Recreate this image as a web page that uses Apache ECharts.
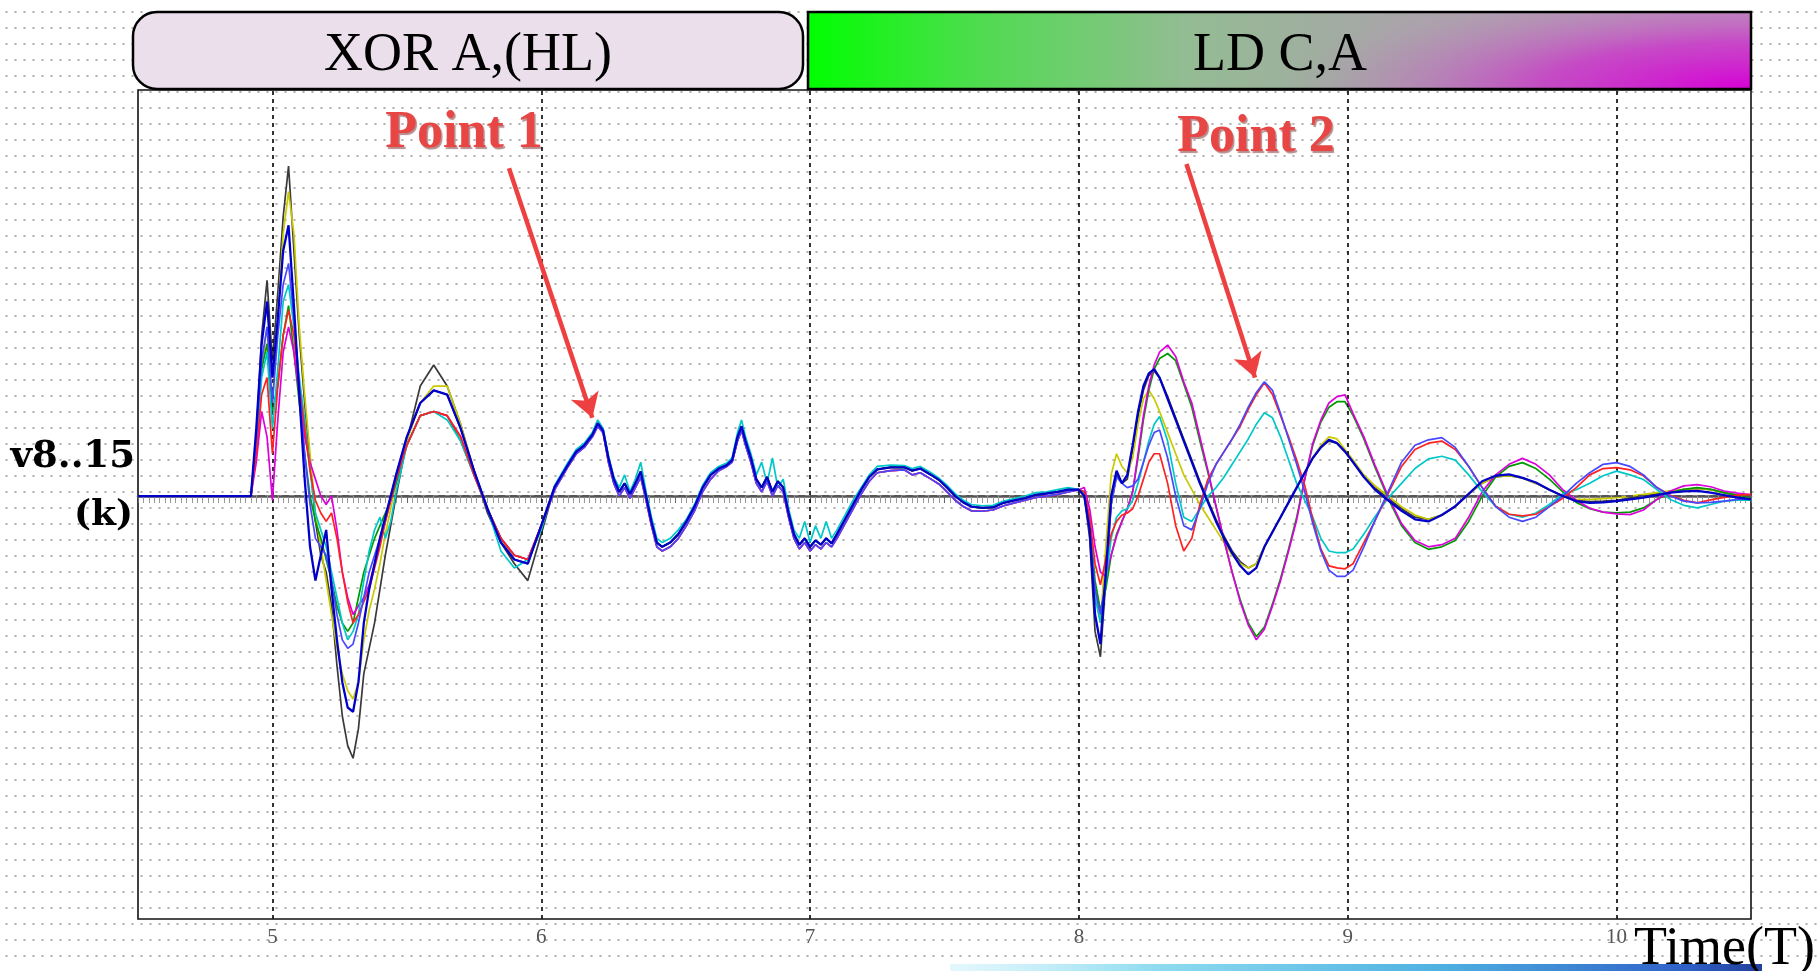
<!DOCTYPE html>
<html>
<head>
<meta charset="utf-8">
<script src="https://cdn.jsdelivr.net/npm/echarts@6/dist/echarts.min.js"></script>
<style>
html,body{margin:0;padding:0;background:#fff;}
#c{width:1818px;height:971px;background-color:#fff;
background-image:radial-gradient(circle, #b3b3b3 0.9px, rgba(255,255,255,0) 1.4px);
background-size:9px 16px;background-position:2px 4px;}
</style>
</head>
<body>
<div id="c"></div>
<script>
// ---------- DATA ----------
const tickValues = [5, 6, 7, 8, 9, 10];

const xTransient = [4.5, 4.92, 4.94, 4.96, 4.98, 5.0, 5.02, 5.04, 5.06, 5.08, 5.1, 5.12, 5.14, 5.16, 5.18, 5.2, 5.22, 5.24, 5.26, 5.28, 5.3, 5.32, 5.34, 5.36, 5.38, 5.4, 5.42, 5.44, 5.46, 5.5, 5.55, 5.6, 5.65, 5.7, 5.75, 5.8, 5.85, 5.9, 5.95, 6.0];
const xMiddle = [6.05, 6.1, 6.13, 6.16, 6.19, 6.21, 6.23, 6.25, 6.27, 6.29, 6.31, 6.33, 6.35, 6.37, 6.39, 6.41, 6.43, 6.45, 6.48, 6.51, 6.54, 6.57, 6.6, 6.63, 6.66, 6.69, 6.71, 6.73, 6.745, 6.76, 6.78, 6.8, 6.82, 6.84, 6.86, 6.88, 6.9, 6.92, 6.94, 6.96, 6.98, 7.0, 7.02, 7.04, 7.06, 7.08, 7.1, 7.13, 7.16, 7.19, 7.22, 7.25, 7.3, 7.35, 7.38, 7.41, 7.45, 7.48, 7.51, 7.54, 7.57, 7.6, 7.64, 7.68, 7.72, 7.76, 7.8, 7.84, 7.88, 7.92, 7.96];
const xRight = [8.0, 8.02, 8.04, 8.06, 8.08, 8.1, 8.12, 8.14, 8.16, 8.18, 8.2, 8.22, 8.24, 8.26, 8.28, 8.3, 8.33, 8.36, 8.39, 8.42, 8.45, 8.48, 8.51, 8.54, 8.57, 8.6, 8.63, 8.66, 8.69, 8.72, 8.75, 8.78, 8.81, 8.84, 8.87, 8.9, 8.93, 8.96, 8.99, 9.02, 9.06, 9.1, 9.15, 9.2, 9.25, 9.3, 9.35, 9.4, 9.45, 9.5, 9.55, 9.6, 9.65, 9.7, 9.75, 9.8, 9.85, 9.9, 9.95, 10.0, 10.05, 10.1, 10.15, 10.2, 10.25, 10.3, 10.35, 10.4, 10.45, 10.5];

// transient (4.5 - 6.0)
const blackTransient   = [0, 0, 14, 38, 51, 32, 48, 66, 78, 58, 38, 22, 8, -6, -14, -18, -26, -40, -52, -59, -62, -55, -42, -36, -30, -22, -14, -7, 0, 13, 26, 31, 26, 17, 6, -4, -11, -16, -20, -9];
const yellowTransient  = [0, 0, 12, 30, 40, 22, 42, 62, 72, 62, 40, 24, 10, -4, -12, -20, -28, -36, -42, -46, -48, -44, -34, -27, -22, -16, -9, -3, 3, 13, 22, 26, 26, 17, 6, -3, -10, -15, -16, -7];
const navyTransient    = [0, 0, 16, 36, 46, 28, 42, 58, 64, 45, 24, 4, -12, -20, -14, -8, -22, -34, -44, -50, -51, -44, -30, -22, -16, -10, -5, 0, 5, 14, 22, 25, 24, 16, 6, -3, -11, -15, -16, -7];
const violetTransient  = [0, 0, 14, 32, 40, 22, 38, 50, 55, 42, 26, 10, -2, -10, -12, -14, -20, -28, -34, -36, -35, -30, -24, -18, -14, -10, -5, 0, 5, 14, 22, 25, 24, 16, 6, -3, -11, -15, -16, -7];
const redTransient     = [0, 0, 10, 24, 28, 10, 26, 38, 44, 38, 26, 16, 6, -1, -4, -6, -4, -10, -18, -25, -30, -28, -25, -22, -17, -12, -6, -1, 4, 12, 19, 20, 19, 14, 5, -3, -10, -14, -15, -7];
const magentaTransient = [0, 0, 8, 20, 14, -1, 18, 34, 40, 34, 24, 14, 8, 4, 0, -2, 0, -8, -18, -24, -28, -26, -24, -21, -16, -11, -6, -1, 4, 12, 19, 20, 19, 14, 5, -3, -10, -14, -15, -7];
const cyanTransient    = [0, 0, 12, 28, 34, 16, 30, 46, 50, 40, 28, 18, 6, -4, -8, -12, -18, -24, -30, -34, -32, -28, -20, -13, -8, -5, -10, -6, 1, 12, 19, 20, 18, 13, 5, -3, -13, -17, -15, -8];
const greenTransient   = [0, 0, 12, 30, 36, 20, 26, 38, 45, 34, 22, 10, 0, -6, -10, -15, -20, -26, -30, -32, -30, -24, -18, -14, -10, -7, -4, -1, 3, 12, 19, 20, 19, 13, 5, -3, -10, -14, -15, -7];

// middle (6.05 - 7.96), traces almost coincide
const middleA    = [2.2, 7.5, 10.5, 12, 14.5, 17.2, 15.5, 9, 4, 1, 3, 0.5, 3, 5.8, 0, -6, -11, -12, -11, -9, -6, -2.5, 2, 5, 6.5, 7.3, 8.5, 14, 16.5, 13, 9, 4, 2, 4.5, 1, 3.5, 2, -4, -9, -11.5, -10, -12, -10.5, -11.5, -10, -11.2, -9, -5.5, -2, 1.5, 4.5, 6.3, 6.8, 6.8, 6, 6.5, 5, 3.8, 2, 0, -1.5, -2.5, -2.8, -2.7, -1.6, -1, -0.5, 0.3, 0.6, 1, 1.5];
const middleB    = [1.5, 7, 10, 11.5, 14, 16.5, 15, 8, 3, 0, 2, -0.5, 2, 4.5, -1, -7, -12, -13, -12, -10, -7, -3.5, 1, 4, 6, 7, 8, 13, 15.5, 12, 8, 3, 1, 3.5, 0, 2.5, 1, -5, -10, -12.5, -11, -13, -11.5, -12.5, -11, -12, -10, -6.5, -3, 0.5, 3.5, 5.5, 6, 6.2, 5, 5.5, 4, 2.8, 1, -1, -2.5, -3.5, -3.6, -3.3, -2.3, -1.6, -1, -0.3, 0, 0.4, 1];
const middleCyan = [2.5, 8, 11, 12.5, 15, 18, 16, 9.5, 4.5, 2, 5, 1, 4, 8, 1, -5, -10, -11, -10, -8, -5.5, -2, 2.5, 5.5, 7, 7.8, 9, 15, 18, 14, 10, 5, 8, 3, 9, 2, 4, -3, -8, -10, -6, -11, -7, -10, -6, -10, -8, -4.5, -1, 2, 5, 7, 7.3, 7.2, 6.5, 7, 5.5, 4.2, 2.5, 0.5, -1, -2, -2.3, -2.2, -1.2, -0.6, 0, 0.8, 1, 1.5, 2];

// right part (8.0 - 10.5)
const blackRight   = [1.5, 0, -10, -32, -38, -20, -2, 5, 3, 4, 11, 19, 25, 28.5, 29.5, 28, 23.5, 18.5, 13.5, 8.5, 3.5, -1, -5.5, -9.5, -13, -15.5, -17, -16, -12, -8.5, -5, -1.5, 2, 5.5, 9, 11.5, 13, 12.5, 10.5, 8, 4.5, 2, -0.5, -3, -5, -5.5, -4.5, -2.5, 0.5, 3, 4.5, 4.8, 4.3, 3, 1.5, 0, -1, -1.3, -1.2, -1, -0.5, 0, 0.5, 1, 1.5, 1.8, 1.5, 0.8, 0, -0.5];
const yellowRight  = [1.5, 1, -6, -22, -30, -12, 5, 10, 7, 5.5, 9, 17, 23, 25, 23, 20, 15, 10, 5, 1.5, -2, -5, -8, -11, -14, -16, -17, -16, -12, -8.5, -5, -1.5, 2, 5.5, 9, 12, 14, 13.5, 11, 8.5, 5, 2.5, 0, -2.5, -4.5, -5.5, -4.5, -2.5, 0.5, 3, 4.5, 4.8, 4.3, 3, 1.5, 0, -0.8, -0.8, -0.6, -0.4, 0, 0.4, 0.8, 1.2, 1.6, 1.8, 1.5, 0.8, 0.2, -0.3];
const navyRight    = [1.5, 0, -8, -28, -35, -18, 0, 6, 3, 5, 12, 20, 26, 29, 30, 28, 23, 18, 13, 8, 3, -1.5, -6, -10, -13.5, -16.5, -18.5, -17, -12, -8.5, -5, -1.5, 2, 5.5, 9, 11.5, 13.3, 12.5, 10.5, 8, 4.5, 1.6, -1, -3.5, -5.5, -6, -4.5, -2.4, 0.5, 3.5, 4.8, 5.1, 4.3, 3.2, 1.5, 0, -1.2, -1.6, -1.5, -1.2, -0.8, -0.4, 0.2, 0.8, 1.1, 1.2, 0.8, 0.2, -0.4, -0.8];
const violetRight  = [1.5, 0, -8, -22, -28, -20, -2, 4.5, 3, 2, 2.4, 4, 8, 12, 15, 15.6, 9, 0, -7, -8, -3, 3, 7.5, 10.5, 13.5, 17, 21, 24.5, 27, 25, 19.5, 13.5, 7.5, 1, -6.5, -13, -17.5, -19, -19, -17.5, -12, -6, 1, 8, 12, 13.3, 13.8, 11.5, 7, 2, -2.5, -5, -6, -5, -2.5, 0, 3, 5.5, 7.5, 7.9, 7, 5, 2, 0, -1.2, -1.6, -1.5, -1.2, -0.8, -0.6];
const redRight     = [1.5, 1, -5, -16, -21, -15, -9, -6, -4.5, -4, -3, 0, 4, 8, 10, 10, 3, -7, -13, -10, -2, 4, 7.5, 10.5, 13.5, 16.5, 20.5, 24, 26.8, 24, 19, 14, 8.5, 2.5, -5.5, -12.5, -16.5, -17, -17.2, -16, -11, -6, 0.5, 7, 11, 12.5, 13, 11, 7, 2, -2.4, -4.3, -4.7, -4.3, -2.5, -0.5, 2, 5, 6.5, 6.7, 6.2, 4.8, 2, 0.2, -1, -1.6, -0.9, -0.3, 0.2, 0.4];
const cyanRight    = [1.5, 0.5, -6, -24, -30, -20, -10, -5, -3.5, -3, -1, 3, 8, 13, 17, 18.8, 13, 3, -5, -6, -3, 0, 2, 4.5, 7.5, 10.5, 13.5, 17, 19.7, 18.5, 14, 8.5, 3, -1, -5, -10, -13, -13.4, -13.4, -12.5, -9, -5, -0.5, 3, 6.5, 8.8, 9.4, 8.5, 5, 1, -2.4, -4.3, -5, -4, -2, 0.5, 1.5, 3, 4.8, 5.9, 5, 3.9, 1.5, -0.8, -2.2, -2.8, -2, -1.2, -1, -1];
const magentaRight = [1.5, 2, -3, -12, -18, -19, -14, -9.5, -6, -3, 1, 10, 19, 26, 31, 34, 35.7, 33, 27, 22, 14, 6, -2.4, -10.5, -18, -25, -30.5, -34, -31.5, -26, -20, -13, -5.7, 4, 12.5, 18, 22, 23.5, 23.9, 19.5, 14, 7.5, 0, -6.5, -10.5, -12, -11.5, -10, -5, 1, 5, 7.5, 8.9, 7.5, 5, 1.5, -1, -2.9, -3.8, -4.2, -4.4, -3.3, -0.8, 1.2, 2.4, 2.7, 2.2, 1.2, 0.7, 0.3];
const greenRight   = [1.5, 1, -6, -20, -27, -22, -14, -9, -6, -3, 1, 9, 18, 25, 30, 32.5, 33.7, 32, 26.5, 21, 13, 5.5, -2.5, -10.5, -18, -24.5, -30, -33.2, -31, -25.5, -19.5, -12.5, -5, 4, 12, 17.5, 21, 22.3, 22.3, 19, 13.5, 7, -0.5, -7, -11, -12.6, -12, -10.5, -6, 0, 4.5, 7, 7.9, 6.5, 4, 1, -1.5, -3, -3.8, -4, -3.8, -2.8, -0.8, 0.8, 1.6, 2, 1.6, 0.8, 0.2, -0.3];

const seriesNames = ['v8', 'v9', 'v10', 'v11', 'v12', 'v13', 'v14', 'v15'];

// ---------- BUILD ----------
const xAll = xTransient.concat(xMiddle, xRight);
function build(t, m, r) {
  const ys = t.concat(m, r);
  return xAll.map((x, i) => [x, ys[i]]);
}
const specs = [
  {color: '#3a3a3a', width: 1.7, d: build(blackTransient, middleA, blackRight)},
  {color: '#c9c900', width: 1.7, d: build(yellowTransient, middleA, yellowRight)},
  {color: '#009a00', width: 1.7, d: build(greenTransient, middleA, greenRight)},
  {color: '#dd00dd', width: 1.7, d: build(magentaTransient, middleB, magentaRight)},
  {color: '#00c8c8', width: 1.7, d: build(cyanTransient, middleCyan, cyanRight)},
  {color: '#ff2020', width: 1.7, d: build(redTransient, middleB, redRight)},
  {color: '#4848ff', width: 1.7, d: build(violetTransient, middleB, violetRight)},
  {color: '#0000c8', width: 2.3, d: build(navyTransient, middleA, navyRight)}
];

const series = [];
series.push({
  type: 'line', name: 'ref', data: [[4.5, 0]], symbol: 'none', z: 1,
  lineStyle: {opacity: 0}, silent: true, animation: false,
  markLine: {
    silent: true, symbol: 'none', animation: false, label: {show: false},
    data: tickValues.map(v => ({xAxis: v, lineStyle: {color: '#111', width: 1.7, type: [4, 4]}}))
      .concat([{yAxis: 0, lineStyle: {color: '#555', width: 1.8, type: [7, 5]}}])
  }
});
specs.forEach((s, i) => {
  series.push({
    type: 'line', name: seriesNames[i], data: s.d, symbol: 'none', showSymbol: false,
    lineStyle: {color: s.color, width: s.width}, itemStyle: {color: s.color},
    z: 2 + i, animation: false, silent: true
  });
});
series.push({
  type: 'line', name: 'arrows', data: [[4.5, 0]], symbol: 'none', z: 20,
  itemStyle: {color: '#ee4040'},
  lineStyle: {opacity: 0}, silent: true, animation: false,
  markLine: {
    silent: true, animation: false, label: {show: false},
    symbol: ['none', 'arrow'], symbolSize: [22, 24],
    itemStyle: {color: '#ee4040'},
    lineStyle: {color: '#ee4040', width: 4.5, type: 'solid', opacity: 1},
    data: [
      [{coord: [5.88, 77.5]}, {coord: [6.19, 18.5]}],
      [{coord: [8.40, 78.5]}, {coord: [8.655, 28]}]
    ]
  }
});

const RG = echarts.graphic.RadialGradient;
const LG = echarts.graphic.LinearGradient;
const chart = echarts.init(document.getElementById('c'), null, {renderer: 'canvas'});
chart.setOption({
  backgroundColor: 'transparent',
  animation: false,
  grid: {left: 138, right: 67, top: 90, bottom: 52, show: true, borderColor: '#111', borderWidth: 1.6, backgroundColor: 'transparent'},
  xAxis: {
    type: 'value', min: 4.5, max: 10.5, interval: 0.5,
    axisLine: {show: true, lineStyle: {color: '#555', width: 2.5}},
    axisTick: {show: true, length: 7, lineStyle: {color: '#666'}},
    minorTick: {show: true, splitNumber: 25, length: 7, lineStyle: {color: '#999'}},
    splitLine: {show: false}, minorSplitLine: {show: false},
    axisLabel: {
      formatter: v => (tickValues.indexOf(v) >= 0 ? String(v) : ''),
      fontFamily: 'Liberation Serif', fontSize: 21, color: '#555', margin: 8
    }
  },
  yAxis: {type: 'value', min: -100, max: 96, show: false},
  series: series,
  graphic: [
    {type: 'rect', z: 30, shape: {x: 133, y: 12, width: 670, height: 77, r: 24},
     style: {fill: '#ecdfec', stroke: '#000', lineWidth: 2.5}},
    {type: 'text', z: 31, style: {text: 'XOR A,(HL)', x: 468, y: 56, textAlign: 'center', textVerticalAlign: 'middle', align: 'center', verticalAlign: 'middle', fontSize: 54, fontFamily: 'Liberation Serif', fill: '#000'}},
    {type: 'rect', z: 30, shape: {x: 808, y: 12, width: 943, height: 77},
     style: {fill: new LG(0, 0, 1, 0, [
       {offset: 0, color: '#00ff00'}, {offset: 0.18, color: '#4fdc4f'}, {offset: 0.4, color: '#93bc93'},
       {offset: 0.62, color: '#a8a6a8'}, {offset: 0.85, color: '#b49cb4'}, {offset: 1, color: '#bc90bc'}])}},
    {type: 'rect', z: 30.5, x: 851, y: 12, scaleX: 4.5, scaleY: 1, shape: {x: 0, y: 0, width: 200, height: 77},
     style: {fill: new RG(1, 1, 1.35, [
       {offset: 0, color: 'rgba(214,0,214,1)'}, {offset: 0.45, color: 'rgba(205,40,205,0.7)'},
       {offset: 1, color: 'rgba(190,140,190,0)'}])}},
    {type: 'rect', z: 30.6, shape: {x: 808, y: 12, width: 943, height: 77},
     style: {fill: 'none', stroke: '#000', lineWidth: 2.5}},
    {type: 'text', z: 31, style: {text: 'LD C,A', x: 1280, y: 56, textAlign: 'center', textVerticalAlign: 'middle', align: 'center', verticalAlign: 'middle', fontSize: 54, fontFamily: 'Liberation Serif', fill: '#000'}},
    {type: 'text', z: 31, style: {text: 'Point 1', x: 464, y: 134, textAlign: 'center', textVerticalAlign: 'middle', align: 'center', verticalAlign: 'middle', fontSize: 52, fontWeight: 'bold', fontFamily: 'Liberation Serif', fill: '#e84545', textShadowColor: 'rgba(90,0,0,0.45)', textShadowOffsetX: 1.5, textShadowOffsetY: 1.5, textShadowBlur: 1}},
    {type: 'text', z: 31, style: {text: 'Point 2', x: 1256, y: 138, textAlign: 'center', textVerticalAlign: 'middle', align: 'center', verticalAlign: 'middle', fontSize: 52, fontWeight: 'bold', fontFamily: 'Liberation Serif', fill: '#e84545', textShadowColor: 'rgba(90,0,0,0.45)', textShadowOffsetX: 1.5, textShadowOffsetY: 1.5, textShadowBlur: 1}},
    {type: 'text', z: 31, style: {text: 'v8..15', x: 135, y: 457, textAlign: 'right', textVerticalAlign: 'middle', align: 'right', verticalAlign: 'middle', fontSize: 37, fontWeight: 'bold', fontFamily: 'DejaVu Serif', fill: '#000'}},
    {type: 'text', z: 31, style: {text: '(k)', x: 133, y: 516, textAlign: 'right', textVerticalAlign: 'middle', align: 'right', verticalAlign: 'middle', fontSize: 36, fontWeight: 'bold', fontFamily: 'DejaVu Serif', fill: '#000'}},
    {type: 'rect', z: 29, shape: {x: 950, y: 964, width: 812, height: 7},
     style: {fill: new LG(0, 0, 1, 0, [
       {offset: 0, color: 'rgba(200,240,250,0.5)'}, {offset: 0.25, color: '#8fdcf0'}, {offset: 0.6, color: '#4fb2e2'},
       {offset: 0.9, color: '#2f62c8'}, {offset: 1, color: '#20409c'}])}},
    {type: 'text', z: 31, style: {text: 'Time(T)', x: 1815, y: 950, textAlign: 'right', textVerticalAlign: 'middle', align: 'right', verticalAlign: 'middle', fontSize: 54, fontFamily: 'Liberation Serif', fill: '#000'}}
  ]
});
</script>
</body>
</html>
